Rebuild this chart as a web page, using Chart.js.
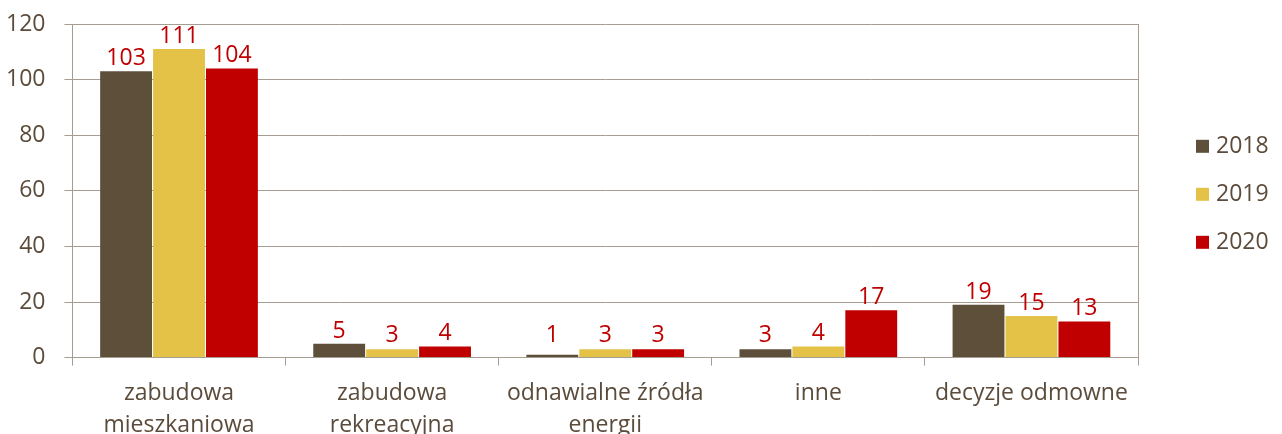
<!DOCTYPE html>
<html>
<head>
<meta charset="utf-8">
<script src="https://cdn.jsdelivr.net/npm/chart.js@4"></script>
<style>
  html, body { margin: 0; padding: 0; background: #fff; overflow: hidden; }
  #wrap { width: 1282px; height: 454px; }
</style>
</head>
<body>
<div id="wrap"><canvas id="wykres"></canvas></div>
<script>
const kategorie = [
  ['zabudowa', 'mieszkaniowa'],
  ['zabudowa', 'rekreacyjna'],
  ['odnawialne źródła', 'energii'],
  'inne',
  'decyzje odmowne'
];
const lata = ['2018', '2019', '2020'];
const dane2018 = [103, 5, 1, 3, 19];
const dane2019 = [111, 3, 3, 4, 15];
const dane2020 = [104, 4, 3, 17, 13];
const kolory = ['#5e4f3b', '#e3c247', '#c00000'];

const tekst = '#5b4b3a';
const siatka = '#a69d91';
const czcionka = { family: '"Open Sans", sans-serif', size: 23 };

// etykiety wartosci nad slupkami
const etykiety = {
  id: 'etykiety',
  afterDatasetsDraw(chart) {
    const ctx = chart.ctx;
    const zero = chart.scales.y.getPixelForValue(0);
    ctx.save();
    ctx.font = '23px "Open Sans", sans-serif';
    ctx.fillStyle = '#c00000';
    ctx.textAlign = 'center';
    ctx.textBaseline = 'alphabetic';
    chart.data.datasets.forEach((ds, i) => {
      chart.getDatasetMeta(i).data.forEach((bar, j) => {
        const y = Math.min(bar.y - 6, zero - 16);
        ctx.fillText(ds.data[j], bar.x, y);
      });
    });
    ctx.restore();
  }
};

// ramka z prawej + legenda
const ramka = {
  id: 'ramka',
  afterDraw(chart) {
    const { ctx, chartArea } = chart;
    ctx.save();
    ctx.strokeStyle = siatka;
    ctx.lineWidth = 1;
    ctx.beginPath();
    ctx.moveTo(chartArea.right + 0.5, chartArea.top);
    ctx.lineTo(chartArea.right + 0.5, chartArea.bottom);
    ctx.stroke();

    const srodek = (chartArea.top + chartArea.bottom) / 2 + 4;
    ctx.font = '23px "Open Sans", sans-serif';
    ctx.textBaseline = 'middle';
    ctx.textAlign = 'left';
    chart.data.datasets.forEach((ds, i) => {
      const y = srodek + (i - 1) * 48;
      const x = chartArea.right + 58;
      ctx.fillStyle = ds.backgroundColor;
      ctx.fillRect(x, y - 7, 13, 13);
      ctx.fillStyle = tekst;
      ctx.fillText(ds.label, x + 20, y);
    });
    ctx.restore();
  }
};

new Chart(document.getElementById('wykres'), {
  type: 'bar',
  data: {
    labels: kategorie,
    datasets: [
      { label: lata[0], data: dane2018, backgroundColor: kolory[0] },
      { label: lata[1], data: dane2019, backgroundColor: kolory[1] },
      { label: lata[2], data: dane2020, backgroundColor: kolory[2] }
    ]
  },
  options: {
    responsive: true,
    maintainAspectRatio: false,
    animation: false,
    categoryPercentage: 0.745,
    barPercentage: 0.98,
    layout: { padding: { top: 24, left: -13, right: 144, bottom: 0 } },
    plugins: {
      legend: { display: false },
      tooltip: { enabled: false }
    },
    scales: {
      x: {
        grid: { display: true, drawOnChartArea: false, color: siatka, tickLength: 8, offset: true },
        border: { display: true, color: siatka },
        ticks: {
          color: tekst,
          font: { ...czcionka, lineHeight: 1.4 },
          padding: 12,
          maxRotation: 0,
          autoSkip: false
        }
      },
      y: {
        min: 0,
        max: 120,
        grid: { color: siatka, tickLength: 8 },
        border: { display: true, color: siatka },
        ticks: { stepSize: 20, color: tekst, font: czcionka, padding: 19 },
        afterFit(skala) {
          skala.paddingTop = 0;
        }
      }
    }
  },
  plugins: [etykiety, ramka]
});
</script>
</body>
</html>
